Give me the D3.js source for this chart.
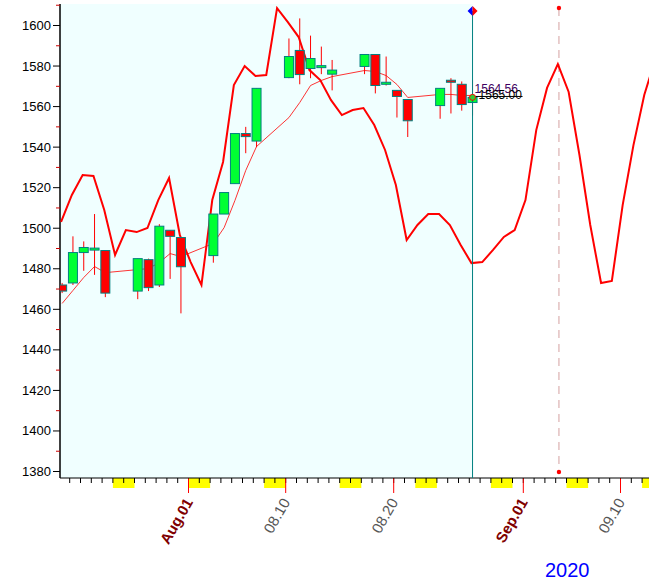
<!DOCTYPE html>
<html><head><meta charset="utf-8">
<script src="https://cdn.jsdelivr.net/npm/d3@7"></script>
<style>body{margin:0;background:#fff}svg{font-family:"Liberation Sans",Arial,sans-serif}</style>
</head><body>
<svg id="chart" width="649" height="580"></svg>
<script>
// trading days
var candleDates=["2020-07-20","2020-07-21","2020-07-22","2020-07-23","2020-07-24",
"2020-07-27","2020-07-28","2020-07-29","2020-07-30","2020-07-31",
"2020-08-03","2020-08-04","2020-08-05","2020-08-06","2020-08-07",
"2020-08-10","2020-08-11","2020-08-12","2020-08-13","2020-08-14",
"2020-08-17","2020-08-18","2020-08-19","2020-08-20","2020-08-21",
"2020-08-24","2020-08-25","2020-08-26","2020-08-27"]
var opens =[1472,1473,1488,1490,1489,1469,1484.5,1472,1499,1495.4,1486.5,1507,1522,1546.7,1543,1574.3,1587.7,1578.8,1580,1576,1579.8,1585.7,1571,1568,1563.5,1560.5,1573,1571,1562]
var closes=[1469,1488,1490.5,1490.2,1468,1485,1470.7,1501,1496,1481,1507,1517.6,1546.7,1545.2,1569,1584.7,1575.8,1583.7,1580.2,1578,1585.7,1570.4,1572,1565,1553,1569,1572,1561,1564.56]
var highs =[1473,1496,1493.5,1507,1489,1485,1485,1502,1499,1495.4,1507,1517.6,1546.7,1550,1569,1593.6,1603.5,1595,1589.6,1583,1585.7,1585.7,1584.7,1568,1563.5,1569,1574,1572.4,1573]
var lows  =[1468,1472,1479,1477,1466,1465,1469,1471,1475,1458,1483,1507,1522,1537,1540,1574,1571,1574,1576,1568,1576,1566.5,1570.4,1554.6,1545,1554,1556.6,1558,1555.6]
var maValues=[1462.9,1469.3,1475.7,1481.1,1478.1,1479.6,1480.1,1483.1,1487.5,1486.0,1492.5,1500.3,1513.7,1528.5,1540.3,1554.6,1562.0,1570.4,1572.9,1574.8,1577.8,1577.3,1575.3,1570.9,1564.5,1566.0,1566.0,1565.5,1565.5]
// cycle line, one value per calendar day from Jul 20
var cycleStart="2020-07-20"
var cycleValues=[1503.1,1516.4,1526.2,1525.8,1509.0,1486.8,1499.1,1498.1,1500.1,1513.9,1524.8,1496.6,1483.3,1472.0,1513.9,1532.7,1570.6,1580.0,1575.1,1575.6,1608.6,1601.7,1594.3,1578.0,1573.1,1563.2,1555.8,1558.3,1559.3,1550.9,1538.6,1521.3,1494.2,1501.6,1507.0,1507.0,1501.6,1491.7,1482.8,1483.3,1489.3,1495.7,1499.1,1513.9,1548.4,1569.2,1581.0,1567.2,1536.1,1501.6,1473.0,1474.0,1511.4,1541.0,1565.7,1583.0]
var yTicks=[1380,1400,1420,1440,1460,1480,1500,1520,1540,1560,1580,1600]
var xLabels=[{d:"2020-08-01",t:"Aug.01",month:true},{d:"2020-08-10",t:"08.10"},{d:"2020-08-20",t:"08.20"},{d:"2020-09-01",t:"Sep.01",month:true},{d:"2020-09-10",t:"09.10"}]
var lastClose=1564.56, refLevel=1565.00, markerDate="2020-09-04"

var parse=d3.utcParse("%Y-%m-%d")
var DAY=864e5, PX=10.8
var svg=d3.select("#chart")
var L=60,R=649,T=4,B=478
var aug1=parse("2020-08-01")
var x=d3.scaleUtc().domain([new Date(+aug1-(188.5-L)/PX*DAY),new Date(+aug1+(R-188.5)/PX*DAY)]).range([L,R])
var y=d3.scaleLinear().domain([1380,1600]).range([471.5,25.5])
var cx=function(s){return x(new Date(+parse(s)+0.3*DAY))}
var lastX=cx(candleDates[candleDates.length-1])

svg.append("rect").attr("x",L).attr("y",T).attr("width",lastX-L).attr("height",B-T).attr("fill","#f0ffff")
svg.append("clipPath").attr("id","c").append("rect").attr("x",L).attr("y",T).attr("width",R-L).attr("height",B-T)

// weekends
var days=d3.utcDay.range(x.domain()[0],x.domain()[1])
svg.selectAll(".we").data(days.filter(function(d){return d.getUTCDay()==6})).enter().append("rect")
  .attr("x",function(d){return x(d)}).attr("y",B).attr("width",function(d){return x(new Date(+d+2*DAY))-x(d)}).attr("height",10).attr("fill","#ffff00")
svg.selectAll(".dt").data(days).enter().append("line")
  .attr("x1",function(d){return x(d)}).attr("x2",function(d){return x(d)}).attr("y1",B).attr("y2",B+5).attr("stroke","#000")
svg.selectAll(".mt").data(xLabels).enter().append("line")
  .attr("x1",function(d){return x(parse(d.d))}).attr("x2",function(d){return x(parse(d.d))}).attr("y1",B).attr("y2",B+15).attr("stroke","#ff0000")
svg.selectAll(".xl").data(xLabels).enter().append("text")
  .attr("transform",function(d){return "translate("+(x(parse(d.d))+5)+","+(B+24)+") rotate(-60)"})
  .attr("text-anchor","end").attr("font-size",15)
  .attr("font-weight",function(d){return d.month?"bold":"normal"})
  .attr("fill",function(d){return d.month?"#800000":"#555"})
  .text(function(d){return d.t})
svg.append("line").attr("x1",L).attr("x2",R).attr("y1",B).attr("y2",B).attr("stroke","#000")
svg.append("text").attr("x",545).attr("y",577).attr("font-size",20).attr("fill","#0000ff").text("2020")

// y axis
svg.append("line").attr("x1",L).attr("x2",L).attr("y1",T).attr("y2",B).attr("stroke","#000").attr("stroke-width",1.5)
svg.selectAll(".ym").data(d3.range(1380,1615,10).filter(function(v){return v%20})).enter().append("line")
  .attr("x1",L-4).attr("x2",L).attr("y1",function(d){return y(d)}).attr("y2",function(d){return y(d)}).attr("stroke","#cc0000")
svg.selectAll(".yt").data(yTicks).enter().append("line")
  .attr("x1",L-7).attr("x2",L).attr("y1",function(d){return y(d)}).attr("y2",function(d){return y(d)}).attr("stroke","#000")
svg.selectAll(".yl").data(yTicks).enter().append("text")
  .attr("x",L-9).attr("y",function(d){return y(d)+4.5}).attr("text-anchor","end").attr("font-size",13).text(function(d){return d})

var g=svg.append("g").attr("clip-path","url(#c)")
// forecast marker line
var mx=x(new Date(+parse(markerDate)+0.3*DAY))
g.append("line").attr("x1",mx).attr("x2",mx).attr("y1",8).attr("y2",472).attr("stroke","#d4a0a0").attr("stroke-dasharray","8,6")
g.selectAll(".md").data([8,472]).enter().append("circle").attr("cx",mx).attr("cy",function(d){return d}).attr("r",2.2).attr("fill","#ff0000")

// cycle line
var c0=parse(cycleStart)
g.append("path").datum(cycleValues).attr("fill","none").attr("stroke","#ff0000").attr("stroke-width",2)
  .attr("d",d3.line().x(function(d,i){return x(new Date(+c0+(i+0.2)*DAY))}).y(function(d){return y(d)}))

// moving average
g.append("path").datum(maValues).attr("fill","none").attr("stroke","#ff0000").attr("stroke-width",0.8)
  .attr("d",d3.line().x(function(d,i){return cx(candleDates[i])}).y(function(d){return y(d)}))

// candles
var idx=d3.range(candleDates.length)
g.selectAll(".wk").data(idx).enter().append("line")
  .attr("x1",function(i){return cx(candleDates[i])}).attr("x2",function(i){return cx(candleDates[i])})
  .attr("y1",function(i){return y(highs[i])}).attr("y2",function(i){return y(lows[i])}).attr("stroke","#ff0000")
g.selectAll(".bd").data(idx).enter().append("rect")
  .attr("x",function(i){return cx(candleDates[i])-4.5}).attr("width",9)
  .attr("y",function(i){return y(Math.max(opens[i],closes[i]))})
  .attr("height",function(i){return Math.max(2,Math.abs(y(opens[i])-y(closes[i])))})
  .attr("fill",function(i){return closes[i]>=opens[i]?"#00ff33":"#ff0000"}).attr("stroke","#008080")

// current-day line
svg.append("line").attr("x1",lastX).attr("x2",lastX).attr("y1",11).attr("y2",B).attr("stroke","#008080")
svg.append("path").attr("d","M"+lastX+",6 L"+(lastX-5)+",11 L"+lastX+",16Z").attr("fill","#0000ff")
svg.append("path").attr("d","M"+lastX+",6 L"+(lastX+5)+",11 L"+lastX+",16Z").attr("fill","#ff0000")
svg.append("line").attr("x1",lastX).attr("x2",lastX+50).attr("y1",y(refLevel)).attr("y2",y(refLevel)).attr("stroke","#000")
svg.append("circle").attr("cx",lastX).attr("cy",y(lastClose)).attr("r",3).attr("fill","#33cc33").attr("stroke","#ff0000")
svg.append("text").attr("x",lastX+2).attr("y",y(lastClose)-4).attr("font-size",12).attr("fill","#400060").text(lastClose.toFixed(2))
svg.append("text").attr("x",lastX+6).attr("y",y(refLevel)+3).attr("font-size",12).attr("fill","#000").text(refLevel.toFixed(2))
</script>
</body></html>
